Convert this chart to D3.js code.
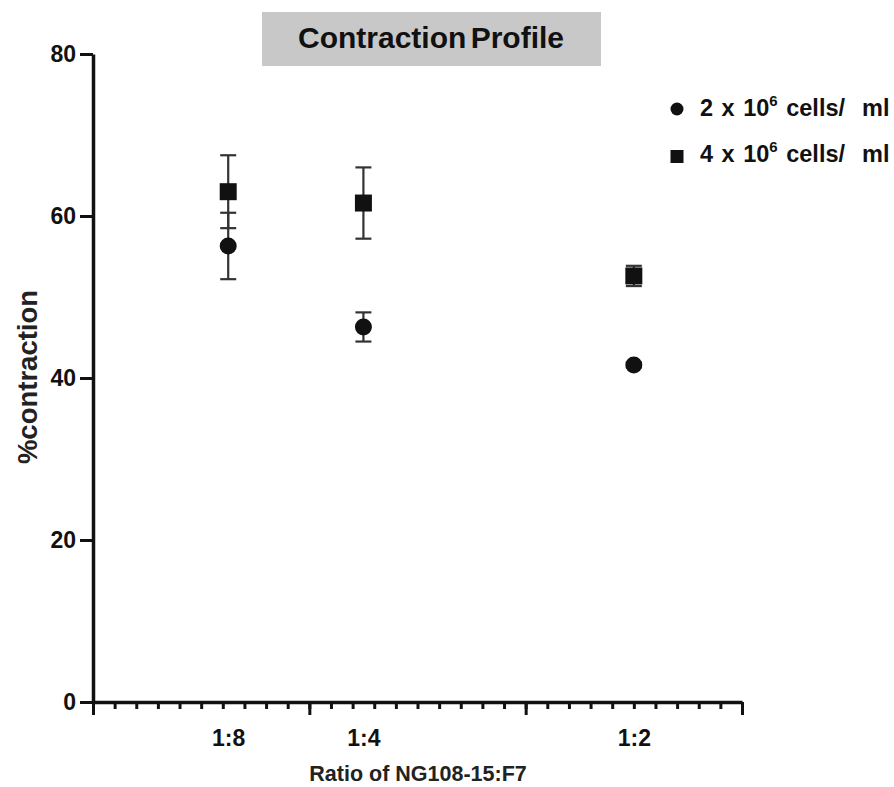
<!DOCTYPE html>
<html>
<head>
<meta charset="utf-8">
<script src="https://cdn.jsdelivr.net/npm/d3@7"></script>
<style>
  html, body { margin: 0; padding: 0; background: #fff; }
  svg { display: block; }
  text { font-family: "Liberation Sans", Arial, sans-serif; }
</style>
</head>
<body>
<svg id="chart" width="894" height="787"></svg>
<script>
// ---- data ----
const categories = ["1:8", "1:4", "1:2"];
const ratioValues = [0.125, 0.25, 0.5];
const seriesNames = ["2 x 10", "4 x 10"];
const lowMean = [56.3, 46.3, 41.6];
const lowErr = [4.1, 1.8, 0.3];
const highMean = [63.0, 61.6, 52.6];
const highErr = [4.5, 4.4, 1.25];
const yTicks = [0, 20, 40, 60, 80];
const xMajorTicks = [0, 0.2, 0.4, 0.6];
const xMinorTicks = d3.range(0, 31).map(i => i * 0.02);

const svg = d3.select("#chart");
const ink = "#111";
const fam = "'Liberation Sans', Arial, sans-serif";

const x = d3.scaleLinear().domain([0, 0.6]).range([93, 742]);
const y = d3.scaleLinear().domain([0, 80]).range([702, 54]);

// ---- title ----
svg.append("rect").attr("x", 262).attr("y", 12).attr("width", 339).attr("height", 54)
  .attr("fill", "#c8c8c8");
svg.append("text").attr("x", 431).attr("y", 48).attr("text-anchor", "middle")
  .attr("font-size", 30).attr("font-weight", "bold").attr("fill", "#111")
  .attr("word-spacing", -4)
  .text("Contraction Profile");

// ---- axes ----
const gx = svg.append("g").attr("transform", `translate(0,${y(0)})`);
gx.append("g").call(d3.axisBottom(x).tickValues(xMinorTicks).tickSize(7).tickSizeOuter(0).tickFormat(""))
  .call(g => g.select(".domain").remove())
  .call(g => g.selectAll(".tick line").attr("stroke", ink).attr("stroke-width", 3));
gx.append("g").call(d3.axisBottom(x).tickValues(xMajorTicks).tickSize(13).tickSizeOuter(0).tickFormat(""))
  .call(g => g.select(".domain").attr("stroke", ink).attr("stroke-width", 3.5))
  .call(g => g.selectAll(".tick line").attr("stroke", ink).attr("stroke-width", 3));
gx.append("g").call(d3.axisBottom(x).tickValues(ratioValues).tickSize(0).tickPadding(28)
    .tickFormat((d, i) => categories[i]))
  .call(g => g.select(".domain").remove())
  .call(g => g.selectAll(".tick text").attr("font-size", 23).attr("font-weight", "bold")
    .attr("fill", ink).attr("font-family", fam));

const gy = svg.append("g").attr("transform", `translate(${x(0)},0)`);
gy.call(d3.axisLeft(y).tickValues(yTicks).tickSize(13).tickSizeOuter(0).tickPadding(4))
  .call(g => g.select(".domain").attr("stroke", ink).attr("stroke-width", 3.5))
  .call(g => g.selectAll(".tick line").attr("stroke", ink).attr("stroke-width", 3))
  .call(g => g.selectAll(".tick text").attr("font-size", 23).attr("font-weight", "bold")
    .attr("fill", ink).attr("font-family", fam));

// axis titles
svg.append("text").attr("x", 418).attr("y", 781).attr("text-anchor", "middle")
  .attr("font-size", 21.5).attr("font-weight", "bold").attr("fill", "#222")
  .text("Ratio of NG108-15:F7");
svg.append("text").attr("transform", "translate(37,377) rotate(-90)").attr("text-anchor", "middle")
  .attr("font-size", 27.5).attr("font-weight", "bold").attr("fill", "#222")
  .text("%contraction");

// ---- data marks ----
const lowData = ratioValues.map((r, i) => ({ r, m: lowMean[i], e: lowErr[i] }));
const highData = ratioValues.map((r, i) => ({ r, m: highMean[i], e: highErr[i] }));
const capHalf = 8;

function errorBars(data) {
  const g = svg.append("g").attr("stroke", "#333").attr("stroke-width", 2.2);
  data.forEach(d => {
    const cx = x(d.r), y1 = y(d.m + d.e), y2 = y(d.m - d.e);
    g.append("line").attr("x1", cx).attr("x2", cx).attr("y1", y1).attr("y2", y2);
    g.append("line").attr("x1", cx - capHalf).attr("x2", cx + capHalf).attr("y1", y1).attr("y2", y1);
    g.append("line").attr("x1", cx - capHalf).attr("x2", cx + capHalf).attr("y1", y2).attr("y2", y2);
  });
}
errorBars(lowData);
errorBars(highData);

svg.append("g").selectAll("circle").data(lowData).join("circle")
  .attr("cx", d => x(d.r)).attr("cy", d => y(d.m)).attr("r", 8.5).attr("fill", ink);
svg.append("g").selectAll("rect").data(highData).join("rect")
  .attr("x", d => x(d.r) - 8.5).attr("y", d => y(d.m) - 8.5).attr("width", 17).attr("height", 17)
  .attr("fill", ink);

// ---- legend ----
const legend = svg.append("g");
legend.append("circle").attr("cx", 677).attr("cy", 109).attr("r", 6.5).attr("fill", ink);
legend.append("rect").attr("x", 670.5).attr("y", 150).attr("width", 13).attr("height", 13).attr("fill", ink);
[116, 162].forEach((by, i) => {
  const t = legend.append("text").attr("x", 700).attr("y", by)
    .attr("font-size", 23.5).attr("font-weight", "bold").attr("fill", ink)
    .attr("word-spacing", 2);
  t.append("tspan").text(seriesNames[i]);
  t.append("tspan").attr("dy", -10).attr("font-size", 15).text("6");
  t.append("tspan").attr("dy", 10).text(" cells/\u00a0 ml");
});
</script>
</body>
</html>
